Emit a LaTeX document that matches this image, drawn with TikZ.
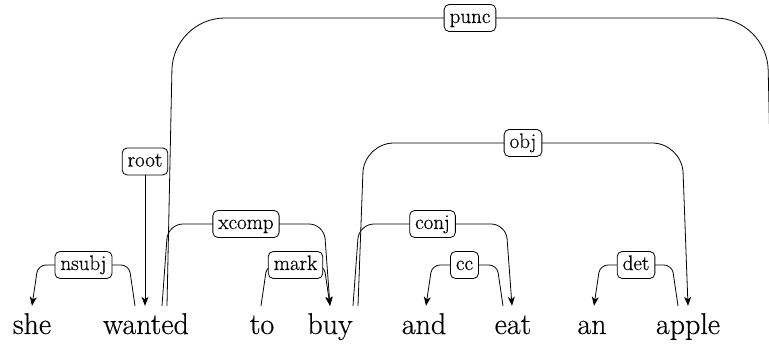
\documentclass[tikz,border=0pt]{standalone}
\usepackage{fontspec}
\newfontfamily\wordfont{Latin Modern Roman}[FakeBold=0.4]
\usetikzlibrary{arrows.meta,calc}
\begin{document}
\begin{tikzpicture}[x=1pt,y=1pt,
  word/.style={anchor=base, inner sep=0pt, text height=22pt, text depth=7pt,
    font=\wordfont\fontsize{30}{36}\selectfont},
  lab/.style={draw, fill=white, rounded corners=5pt, line width=0.8pt,
    inner xsep=5.5pt, inner ysep=3.5pt, text height=15pt, text depth=5pt,
    font=\wordfont\fontsize{21}{24}\selectfont},
  dep/.style={line width=0.8pt},
  tipend/.style={-{Stealth[length=9pt,width=7pt,inset=2.5pt]}},
  tipstart/.style={{Stealth[length=9pt,width=7pt,inset=2.5pt]}-},
]
\useasboundingbox (0,0) rectangle (769,344);
\clip (0,0) rectangle (769,344);

% the sentence
\node[word] (she)    at (32,10)  {she};
\node[word] (wanted) at (146,10) {wanted};
\node[word] (to)     at (262,10) {to};
\node[word] (buy)    at (330,10) {buy};
\node[word] (and)    at (424,10) {and};
\node[word] (eat)    at (513,10) {eat};
\node[word] (an)     at (592,10) {an};
\node[word] (apple)  at (688,10) {apple};

% attachment points above the words
\coordinate (she-nsubj)    at ($(she.north)+(0,6)$);
\coordinate (wanted-nsubj) at ($(wanted.north)+(-11,6)$);
\coordinate (wanted-root)  at ($(wanted.north)+(-1,6)$);
\coordinate (wanted-xcomp) at ($(wanted.north)+(16,6)$);
\coordinate (wanted-punc)  at ($(wanted.north)+(21,6)$);
\coordinate (to-mark)      at ($(to.north)+(-1,6)$);
\coordinate (buy-in)       at ($(buy.north)+(0,6)$);
\coordinate (buy-conj)     at ($(buy.north)+(23,6)$);
\coordinate (buy-obj)      at ($(buy.north)+(28,6)$);
\coordinate (and-cc)       at ($(and.north)+(2,6)$);
\coordinate (eat-cc)       at ($(eat.north)+(-10,6)$);
\coordinate (eat-conj)     at ($(eat.north)+(-1,6)$);
\coordinate (an-det)       at ($(an.north)+(2,6)$);
\coordinate (apple-det)    at ($(apple.north)+(-10,6)$);
\coordinate (apple-obj)    at ($(apple.north)+(0,6)$);
\coordinate (dot-punc)     at (773.5,38);

% root
\node[lab] (root) at (145,182.5) {root};
\draw[dep,tipend] (root.south) -- (root.south |- wanted-root);

% short arcs
\draw[dep,rounded corners=8pt,tipstart] let \p1=(she-nsubj), \p2=(wanted-nsubj) in
  (\p1) -- (\x1+6pt,79pt) -- node[lab]{nsubj} (\x2-6pt,79pt) -- (\p2);
\draw[dep,rounded corners=8pt,tipend] let \p1=(to-mark), \p2=(buy-in) in
  (\p1) -- (\x1+6pt,79pt) -- node[lab]{mark} (\x2-6pt,79pt) -- (\p2);
\draw[dep,rounded corners=8pt,tipstart] let \p1=(and-cc), \p2=(eat-cc) in
  (\p1) -- (\x1+6pt,79pt) -- node[lab]{cc} (\x2-6pt,79pt) -- (\p2);
\draw[dep,rounded corners=8pt,tipstart] let \p1=(an-det), \p2=(apple-det) in
  (\p1) -- (\x1+6pt,79pt) -- node[lab]{det} (\x2-6pt,79pt) -- (\p2);

% middle arcs
\draw[dep,rounded corners=15pt,tipend] let \p1=(wanted-xcomp), \p2=(buy-in) in
  (\p1) -- (\x1+6pt,120pt) -- node[lab]{xcomp} (\x2-6pt,120pt) -- (\p2);
\draw[dep,rounded corners=15pt,tipend] let \p1=(buy-conj), \p2=(eat-conj) in
  (\p1) -- (\x1+6pt,120pt) -- node[lab]{conj} (\x2-6pt,120pt) -- (\p2);

% long arcs
\draw[dep,rounded corners=30pt,tipend] let \p1=(buy-obj), \p2=(apple-obj) in
  (\p1) -- (\x1+6pt,201pt) -- node[lab]{obj} (\x2-6pt,201pt) -- (\p2);
\draw[dep,rounded corners=52pt,tipend] let \p1=(wanted-punc), \p2=(dot-punc) in
  (\p1) -- (\x1+6pt,326pt) -- node[lab]{punc} (\x2-6.5pt,326pt) -- (\p2);
\end{tikzpicture}
\end{document}
